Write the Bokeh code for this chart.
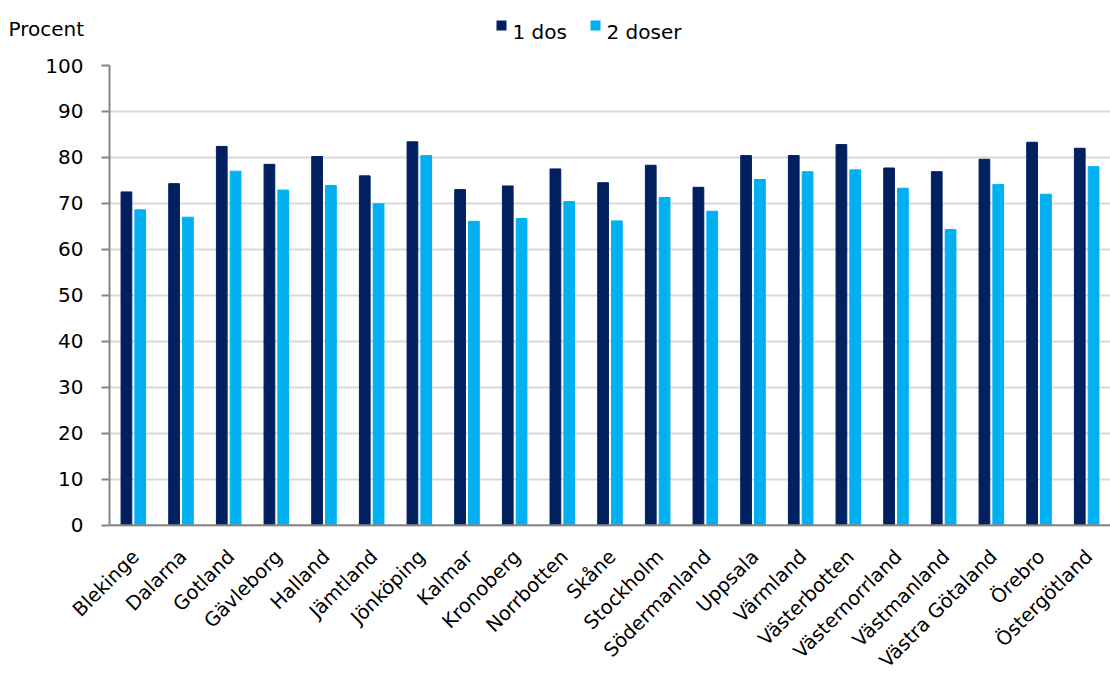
from bokeh.plotting import figure
from bokeh.models import ColumnDataSource, Range1d, FactorRange, FixedTicker, Span
from bokeh.layouts import column, row
from bokeh.transform import dodge
from bokeh.core.properties import value
from bokeh.embed import file_html
from bokeh.resources import INLINE
import math

regions = ["Blekinge", "Dalarna", "Gotland", "Gävleborg", "Halland", "Jämtland",
           "Jönköping", "Kalmar", "Kronoberg", "Norrbotten", "Skåne", "Stockholm",
           "Södermanland", "Uppsala", "Värmland", "Västerbotten", "Västernorrland",
           "Västmanland", "Västra Götaland", "Örebro", "Östergötland"]
dos1 = [72.5, 74.3, 82.4, 78.5, 80.2, 76.0, 83.4, 73.0, 73.8, 77.5, 74.5, 78.3,
        73.5, 80.4, 80.4, 82.8, 77.7, 76.9, 79.6, 83.3, 82.0]
dos2 = [68.6, 67.0, 77.0, 72.9, 73.9, 69.9, 80.4, 66.1, 66.7, 70.4, 66.2, 71.3,
        68.3, 75.2, 76.9, 77.3, 73.3, 64.3, 74.1, 72.0, 78.0]
y_ticks = [0, 10, 20, 30, 40, 50, 60, 70, 80, 90, 100]
series_names = ["1 dos", "2 doser"]
y_title = "Procent"

FONT = "DejaVu Sans"
DARK = "#002060"
LIGHT = "#00B0F0"
AXIS = "#868686"
COLORS = [DARK, LIGHT]

# layout constants (pixels)
W = 1110
HEAD_H = 55
LEFT = 109
MAIN_TOP = 10
FRAME_H = 462
MAIN_BOTTOM = 12
FOOT_H = 673 - HEAD_H - (MAIN_TOP + FRAME_H + MAIN_BOTTOM)
N = len(regions)
CAT_W = (W - LEFT) / N          # pixel width of one category
LABEL_SHIFT = 0.05              # label anchor right of category centre (in categories)
LABEL_Y = 14                    # label anchor below footer top (pixels)

# ---------- header: y-title and legend (page pixel coordinates) ----------
head = figure(width=W, height=HEAD_H, output_backend="svg", toolbar_location=None,
              x_range=Range1d(0, W), y_range=Range1d(HEAD_H, 0),
              x_axis_type=None, y_axis_type=None, min_border=0)
head.outline_line_color = None
head.xgrid.visible = False
head.ygrid.visible = False
head.text(x=[8], y=[28.5], text=[y_title], text_font=value(FONT),
          text_font_size="20px", text_baseline="alphabetic", text_align="left",
          text_color="black")
sq_x = [501, 595]
head.rect(x=sq_x, y=[25, 25], width=10, height=10, width_units="screen",
          height_units="screen", fill_color=COLORS, line_color=None)
head.text(x=[x + 11 for x in sq_x], y=[31.7, 31.7], text=series_names, text_font=value(FONT),
          text_font_size="20px", text_baseline="alphabetic", text_align="left",
          text_color="black")

# ---------- main chart ----------
src = ColumnDataSource(data=dict(region=regions, d1=dos1, d2=dos2))
xr = FactorRange(*regions, range_padding=0)

p = figure(width=W, height=MAIN_TOP + FRAME_H + MAIN_BOTTOM, output_backend="svg",
           toolbar_location=None, x_range=xr, y_range=Range1d(-0.5, 100),
           min_border_left=LEFT, min_border_right=0, min_border_top=MAIN_TOP,
           min_border_bottom=MAIN_BOTTOM)
p.outline_line_color = None

p.vbar(x=dodge("region", -0.145, range=xr), top="d1", width=0.225,
       source=src, fill_color=DARK, line_color=DARK)
p.vbar(x=dodge("region", 0.145, range=xr), top="d2", width=0.225,
       source=src, fill_color=LIGHT, line_color=LIGHT)

p.xgrid.grid_line_color = None
p.ygrid.grid_line_color = "#D9D9D9"
p.ygrid.grid_line_width = 2
p.xaxis.visible = False
p.add_layout(Span(location=0, dimension="width", line_color=AXIS, line_width=2))

p.yaxis.ticker = FixedTicker(ticks=y_ticks)
p.yaxis.bounds = (0, 100)
p.yaxis.minor_tick_line_color = None
p.yaxis.major_tick_in = 0
p.yaxis.major_tick_out = 8
p.yaxis.major_label_standoff = 18
p.yaxis.axis_line_color = AXIS
p.yaxis.axis_line_width = 2
p.yaxis.major_tick_line_color = AXIS
p.yaxis.major_tick_line_width = 2
p.yaxis.major_label_text_font = FONT
p.yaxis.major_label_text_font_size = "20px"
p.yaxis.major_label_text_color = "black"

# ---------- footer: rotated category labels ----------
# footer frame spans the full width; pad the factor range so categories line up
pad = (W / CAT_W - N) / 2
foot_xr = FactorRange(*regions, range_padding=pad, range_padding_units="absolute")
shift = LEFT / CAT_W - pad + LABEL_SHIFT
foot = figure(width=W, height=FOOT_H, output_backend="svg", toolbar_location=None,
              x_range=foot_xr, y_range=Range1d(FOOT_H, 0), x_axis_type=None,
              y_axis_type=None, min_border=0)
foot.outline_line_color = None
foot.xgrid.visible = False
foot.ygrid.visible = False
foot.text(x=dodge("region", shift, range=foot_xr), y=LABEL_Y, text="region", source=src,
          angle=math.pi / 4, text_align="right", text_baseline="middle",
          text_font=value(FONT), text_font_size="19.5px", text_color="black")

layout = column(row(head), p, row(foot), spacing=0)
open("out.html", "w").write(file_html(layout, INLINE))
